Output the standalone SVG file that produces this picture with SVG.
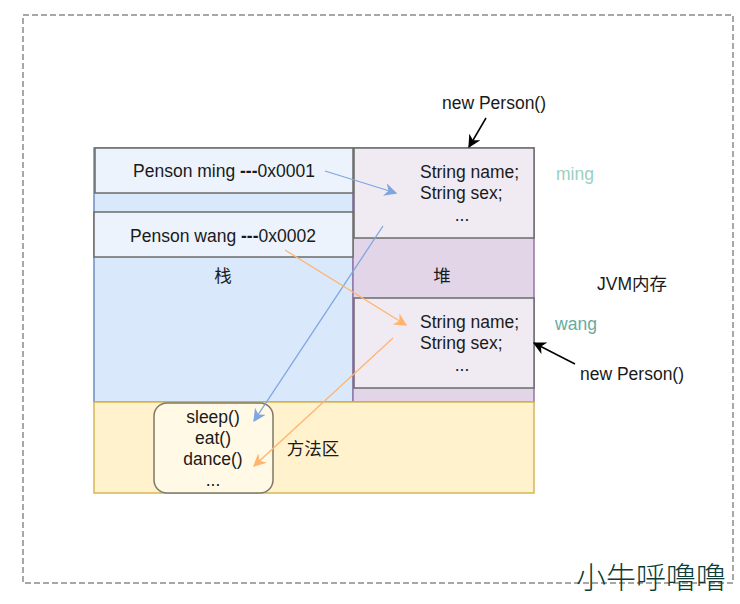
<svg xmlns="http://www.w3.org/2000/svg" width="740" height="604" viewBox="0 0 740 604">
<style>
text{font-family:"Liberation Sans","Noto Sans CJK SC",sans-serif;font-size:17.5px;fill:#1a1a1a}
.c{text-anchor:middle}
.obj{fill:#f0eaf3;stroke:#6b6b6b;stroke-width:1.5}
.ref{fill:#edf3fc;stroke:#6b6b6b;stroke-width:1.5}
</style>
<defs>
<marker id="ab" viewBox="0 0 10 10" refX="9" refY="5" markerWidth="13" markerHeight="13" markerUnits="userSpaceOnUse" orient="auto"><path d="M0,0 L10,5 L0,10 L3,5 Z" fill="#7ea6e0"/></marker>
<marker id="ao" viewBox="0 0 10 10" refX="9" refY="5" markerWidth="13" markerHeight="13" markerUnits="userSpaceOnUse" orient="auto"><path d="M0,0 L10,5 L0,10 L3,5 Z" fill="#ffb570"/></marker>
<marker id="ak" viewBox="0 0 10 10" refX="9" refY="5" markerWidth="13" markerHeight="13" markerUnits="userSpaceOnUse" orient="auto"><path d="M0,0 L10,5 L0,10 L3,5 Z" fill="#000"/></marker>
</defs>
<rect width="740" height="604" fill="#fff"/>
<g id="jvm">
<rect x="23" y="15" width="710" height="568" fill="none" stroke="#8a8a8a" stroke-width="1.5" stroke-dasharray="6 3"/>
<text x="632" y="290" class="c">JVM内存</text>
</g>
<g id="stack">
<rect x="94" y="148" width="259" height="254" fill="#dae8fc" stroke="#6c8ebf" stroke-width="1.5"/>
<text x="223" y="282" class="c">栈</text>
</g>
<g id="heap">
<rect x="353" y="148" width="181" height="254" fill="#e1d5e7" stroke="#9673a6" stroke-width="1.5"/>
<text x="442" y="282" class="c">堆</text>
</g>
<g id="method">
<rect x="94" y="402" width="440" height="91" fill="#fff2cc" stroke="#d6b656" stroke-width="1.5"/>
<text x="313" y="455" class="c">方法区</text>
</g>
<g id="ref-ming">
<rect class="ref" x="95" y="148" width="258" height="45"/>
<text x="224" y="177" class="c">Penson ming <tspan font-weight="bold">---</tspan>0x0001</text>
</g>
<g id="ref-wang">
<rect class="ref" x="94" y="212" width="259" height="45"/>
<text x="223" y="242" class="c">Penson wang <tspan font-weight="bold">---</tspan>0x0002</text>
</g>
<g id="obj-ming">
<rect class="obj" x="354" y="148" width="180" height="90"/>
<text x="420" y="178">String name;</text>
<text x="420" y="199">String sex;</text>
<text x="462" y="221" class="c">...</text>
</g>
<g id="obj-wang">
<rect class="obj" x="354" y="298" width="180" height="90"/>
<text x="420" y="328">String name;</text>
<text x="420" y="349">String sex;</text>
<text x="462" y="371" class="c">...</text>
</g>
<g id="methods">
<rect x="154" y="403" width="119" height="90" rx="13" fill="#fff9e6" stroke="#7f7a66" stroke-width="1.5"/>
<text x="213" y="423" class="c">sleep()</text>
<text x="213" y="444" class="c">eat()</text>
<text x="213" y="465" class="c">dance()</text>
<text x="213" y="486" class="c">...</text>
</g>
<g id="label-ming"><text x="575" y="180" class="c" style="fill:#9ad0c2">ming</text></g>
<g id="label-wang"><text x="576" y="330" class="c" style="fill:#67ab9f">wang</text></g>
<g id="new1"><text x="494" y="109" class="c">new Person()</text></g>
<g id="new2"><text x="632" y="380" class="c">new Person()</text></g>
<g id="connectors" fill="none" stroke-width="1.3">
<line x1="325" y1="171" x2="396" y2="193" stroke="#7ea6e0" marker-end="url(#ab)"/>
<line x1="383" y1="226" x2="254" y2="421" stroke="#7ea6e0" marker-end="url(#ab)"/>
<line x1="285" y1="250" x2="406" y2="325" stroke="#ffb570" marker-end="url(#ao)"/>
<line x1="393" y1="338" x2="254" y2="466" stroke="#ffb570" marker-end="url(#ao)"/>
<line x1="486" y1="118" x2="469" y2="147" stroke="#000" stroke-width="1.5" marker-end="url(#ak)"/>
<line x1="575" y1="364" x2="534" y2="343" stroke="#000" stroke-width="1.5" marker-end="url(#ak)"/>
</g>
<g id="signature"><text x="651" y="588" class="c" style="font-family:'Noto Sans CJK SC',serif;font-size:30px;font-weight:300;fill:#0d3b36">小牛呼噜噜</text></g>
</svg>
